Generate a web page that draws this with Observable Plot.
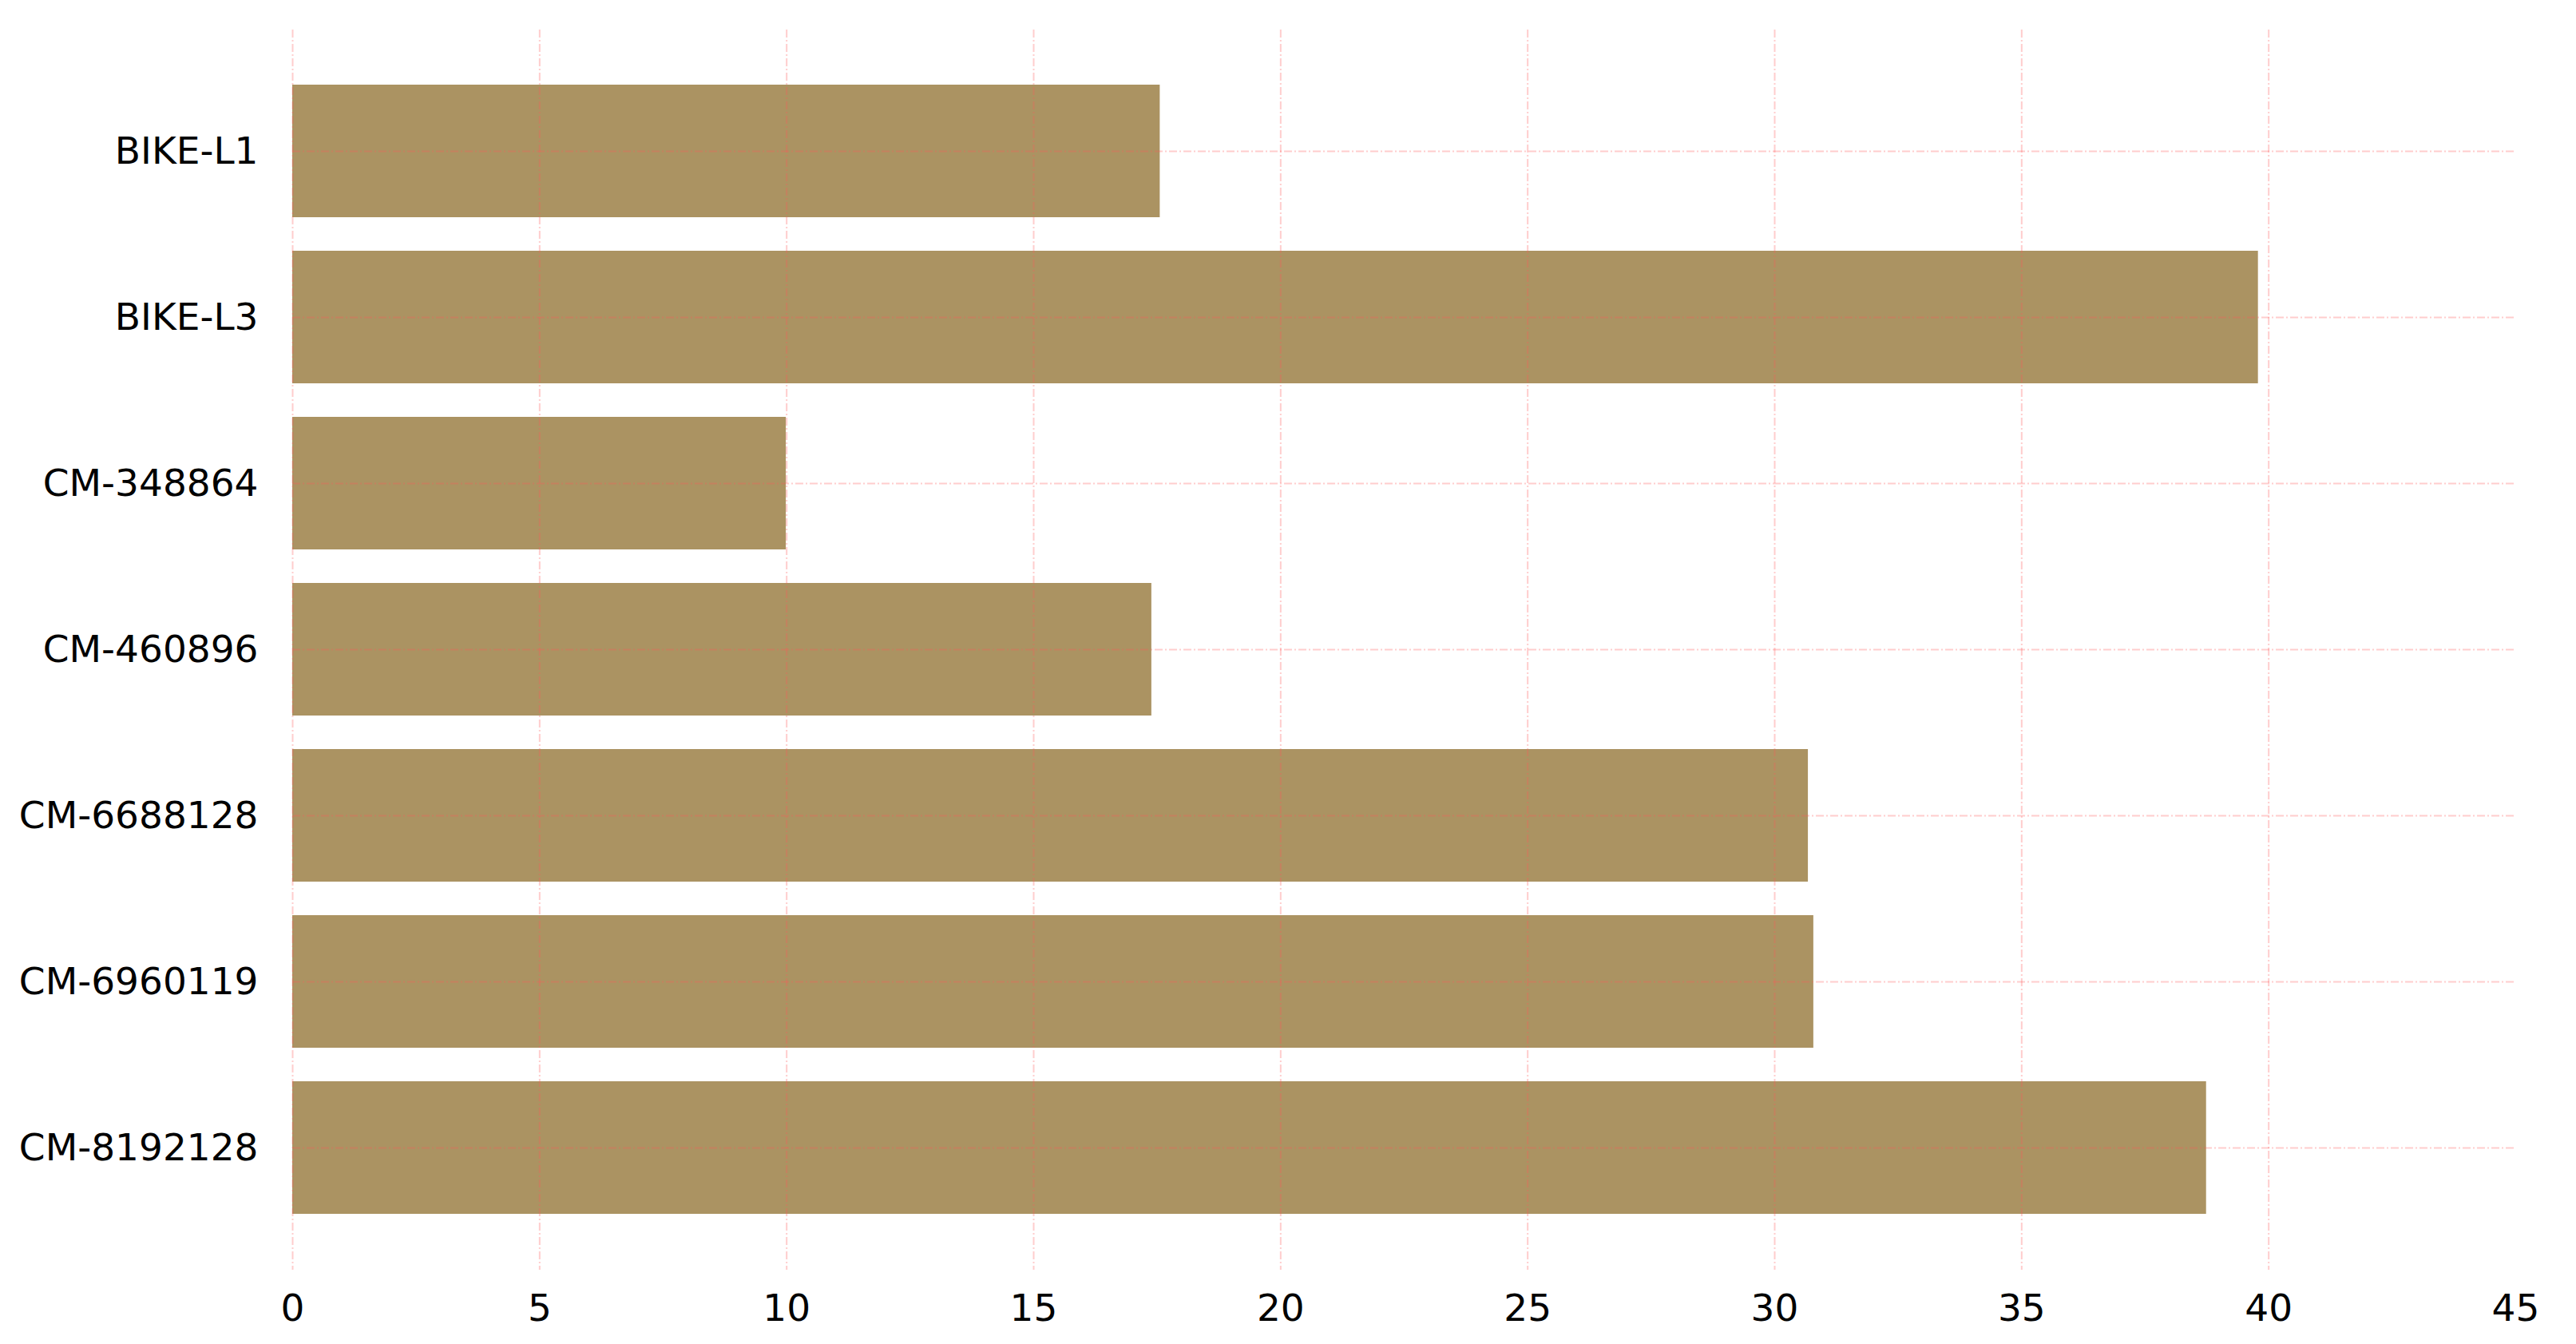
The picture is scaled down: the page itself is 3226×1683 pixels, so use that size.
<!DOCTYPE html>
<html>
<head>
<meta charset="utf-8">
<script src="https://cdn.jsdelivr.net/npm/d3@7"></script>
<script src="https://cdn.jsdelivr.net/npm/@observablehq/plot@0.6"></script>
<style>
  html, body { margin: 0; padding: 0; background: #fff; }
  #chart svg { display: block; }
</style>
</head>
<body>
<div id="chart"></div>
<script>
const categories = ["BIKE-L1", "BIKE-L3", "CM-348864", "CM-460896", "CM-6688128", "CM-6960119", "CM-8192128"];
const values = [17.56, 39.79, 9.99, 17.39, 30.68, 30.79, 38.74];
const xTicks = [0, 5, 10, 15, 20, 25, 30, 35, 40, 45];
const xGridTicks = [0, 5, 10, 15, 20, 25, 30, 35, 40];

const data = categories.map((c, i) => ({category: c, value: values[i]}));

const gridStyle = {stroke: "#ff5858", strokeOpacity: 0.3, strokeWidth: 2, strokeDasharray: "10,3,2,3"};

const chart = Plot.plot({
  width: 3226,
  height: 1683,
  marginLeft: 366,
  marginRight: 76,
  marginTop: 37,
  marginBottom: 93,
  style: {fontFamily: "DejaVu Sans", fontSize: "47px", color: "#000", background: "#fff"},
  x: {domain: [0, 45], ticks: xTicks, label: null},
  y: {domain: categories, paddingInner: 0.2, paddingOuter: 0.32, label: null},
  marks: [
    Plot.barX(data, {y: "category", x: "value", fill: "#ab9362"}),
    Plot.gridX(xGridTicks, gridStyle),
    Plot.gridY(categories, gridStyle),
    Plot.axisX(xTicks, {tickSize: 0, tickPadding: 30, fontSize: 47, label: null}),
    Plot.axisY({tickSize: 0, tickPadding: 43, fontSize: 47, label: null})
  ]
});
document.getElementById("chart").appendChild(chart);
</script>
</body>
</html>
